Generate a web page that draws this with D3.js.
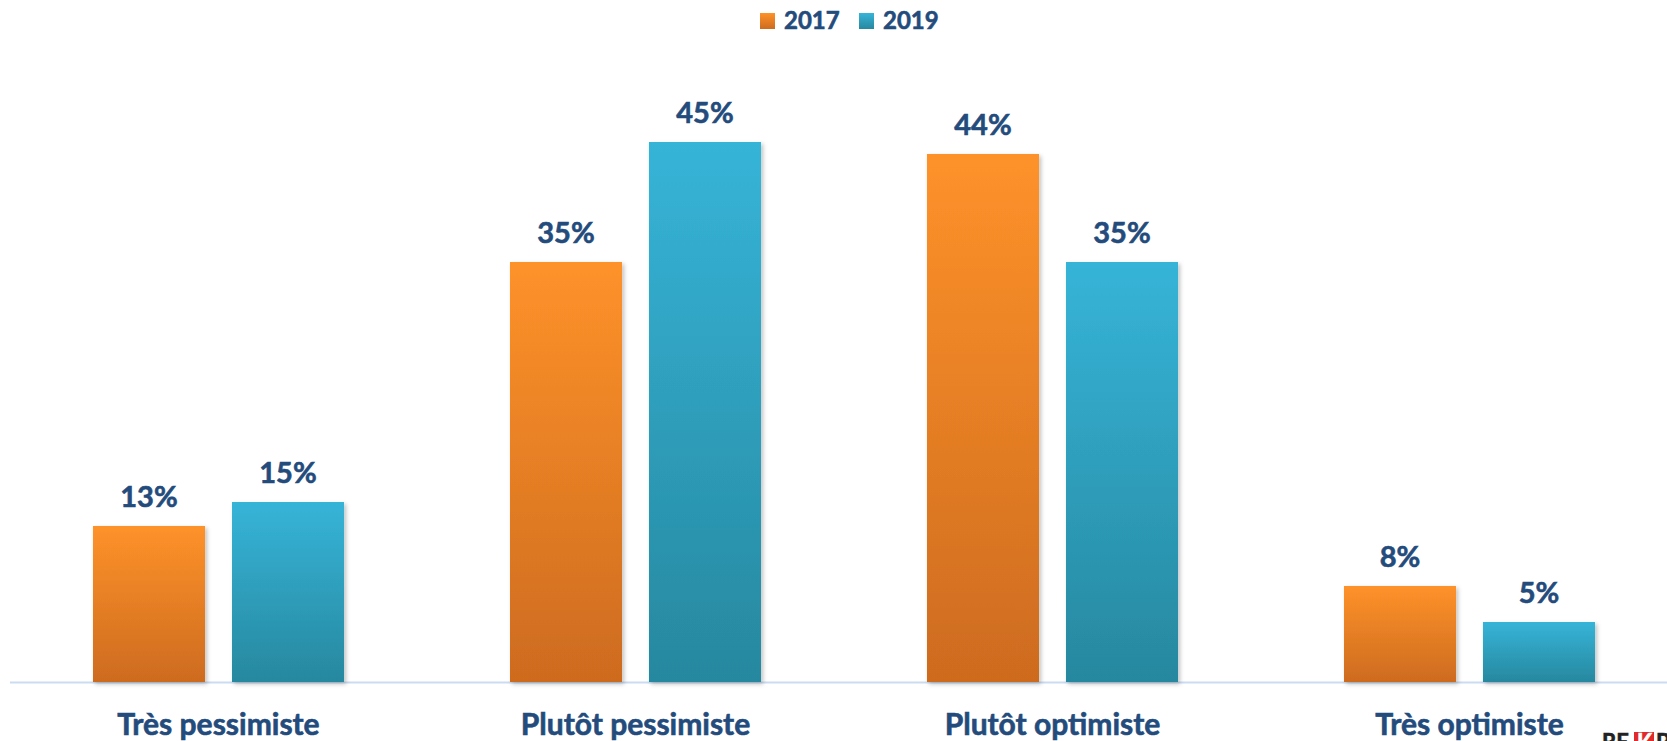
<!DOCTYPE html>
<html>
  <head>
    <meta charset="utf-8">
    <title>Pessimiste / optimiste</title>
    <script type="text/javascript" src="https://d3js.org/d3.v7.min.js"></script>
    <style type="text/css">
      body { margin: 0; background: #ffffff; }
      text { font-family: Lato, "Open Sans", sans-serif; font-weight: bold; fill: #234b7c; stroke: #234b7c; stroke-width: 0.6px; }
    </style>
  </head>
  <body>
    <script type="text/javascript">
    // data
    var categories = ["Très pessimiste", "Plutôt pessimiste", "Plutôt optimiste", "Très optimiste"];
    var years = ["2017", "2019"];
    var values2017 = [13, 35, 44, 8];
    var values2019 = [15, 45, 35, 5];

    var rows = categories.map(function(c, i) {
      return {cat: c, vals: [{year: "2017", v: values2017[i]}, {year: "2019", v: values2019[i]}]};
    });

    var widthSVG = 1667;
    var heightSVG = 741;
    var baseY = 682;

    var svg = d3.select("body")
                .append("svg")
                .attr("width", widthSVG)
                .attr("height", heightSVG);

    var defs = svg.append("defs");
    var grads = {
      "2017": ["#fe922a", "#cd6b1f"],
      "2019": ["#36b4d8", "#27889f"]
    };
    years.forEach(function(y) {
      var g = defs.append("linearGradient")
                  .attr("id", "g" + y)
                  .attr("x1", 0).attr("y1", 0).attr("x2", 0).attr("y2", 1);
      g.append("stop").attr("offset", "0%").attr("stop-color", grads[y][0]);
      g.append("stop").attr("offset", "100%").attr("stop-color", grads[y][1]);
    });
    var f = defs.append("filter").attr("id", "shadow")
                .attr("x", "-10%").attr("y", "-10%").attr("width", "130%").attr("height", "130%");
    f.append("feDropShadow")
     .attr("dx", 2).attr("dy", 2).attr("stdDeviation", 2)
     .attr("flood-color", "#000").attr("flood-opacity", 0.25);

    // scales
    var x0 = d3.scaleBand()
               .domain(categories)
               .range([10, 1678]);

    var x1 = d3.scaleBand()
               .domain(years)
               .range([0, x0.bandwidth()])
               .paddingInner(0.194)
               .paddingOuter(0.597);

    var yScale = d3.scaleLinear()
                   .domain([0, 50])
                   .range([baseY, baseY - 600]);

    // axis line
    svg.append("line")
       .attr("x1", 10).attr("x2", widthSVG)
       .attr("y1", baseY + 0.5).attr("y2", baseY + 0.5)
       .attr("stroke", "#c9dcf2")
       .attr("stroke-width", 2);

    var groups = svg.selectAll("g.grp")
                    .data(rows)
                    .enter()
                    .append("g")
                    .attr("class", "grp")
                    .attr("transform", function(d) { return "translate(" + x0(d.cat) + ",0)"; });

    groups.selectAll("rect")
          .data(function(d) { return d.vals; })
          .enter()
          .append("rect")
          .attr("x", function(d) { return x1(d.year); })
          .attr("y", function(d) { return yScale(d.v); })
          .attr("width", x1.bandwidth())
          .attr("height", function(d) { return baseY - yScale(d.v); })
          .attr("fill", function(d) { return "url(#g" + d.year + ")"; })
          .attr("filter", "url(#shadow)");

    // value labels
    groups.selectAll("text.val")
          .data(function(d) { return d.vals; })
          .enter()
          .append("text")
          .attr("class", "val")
          .attr("x", function(d) { return x1(d.year) + x1.bandwidth() / 2; })
          .attr("y", function(d) { return yScale(d.v) - 19; })
          .attr("text-anchor", "middle")
          .style("font-size", "29px")
          .text(function(d) { return d.v + "%"; });

    // category labels
    svg.selectAll("text.cat")
       .data(categories)
       .enter()
       .append("text")
       .attr("class", "cat")
       .attr("x", function(d) { return x0(d) + x0.bandwidth() / 2; })
       .attr("y", 735)
       .attr("text-anchor", "middle")
       .style("font-size", "30px")
       .text(function(d) { return d; });

    // legend
    var legX = [760, 859];
    var legend = svg.selectAll("g.leg")
                    .data(years)
                    .enter()
                    .append("g")
                    .attr("class", "leg")
                    .attr("transform", function(d, i) { return "translate(" + legX[i] + ",0)"; });
    legend.append("rect")
          .attr("x", 0).attr("y", 13)
          .attr("width", 15).attr("height", 16)
          .attr("fill", function(d) { return "url(#g" + d + ")"; });
    legend.append("text")
          .attr("x", 24).attr("y", 29)
          .style("font-size", "24px")
          .text(function(d) { return d; });

    // logo, cut off at the bottom edge as in the source
    var logo = svg.append("g").attr("transform", "translate(1602,0)");
    logo.append("text")
        .attr("x", 0).attr("y", 750)
        .style("font-size", "22px")
        .style("fill", "#222").style("stroke", "#222")
        .text("RE");
    logo.append("rect")
        .attr("x", 32).attr("y", 732)
        .attr("width", 20).attr("height", 12)
        .attr("fill", "#e02a2a");
    logo.append("text")
        .attr("x", 35).attr("y", 750)
        .style("font-size", "22px")
        .style("fill", "#fff").style("stroke", "#fff")
        .text("K");
    logo.append("text")
        .attr("x", 54).attr("y", 750)
        .style("font-size", "22px")
        .style("fill", "#222").style("stroke", "#222")
        .text("P");
    </script>
  </body>
</html>
